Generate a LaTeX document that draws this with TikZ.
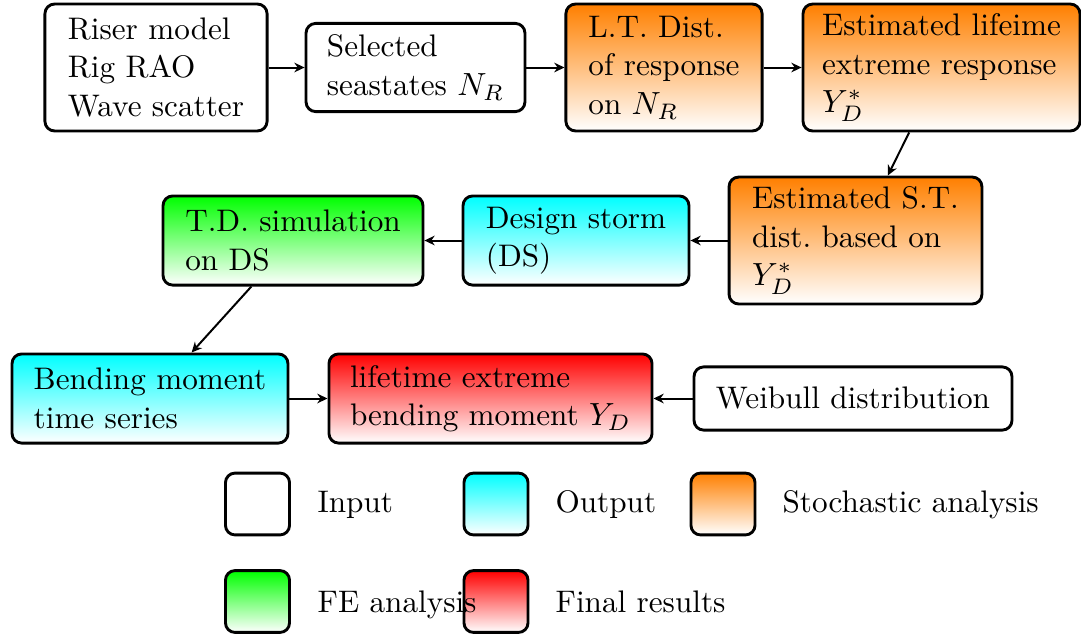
\documentclass[tikz,border=0pt]{standalone}
\usetikzlibrary{arrows.meta}
\tikzset{
  txt/.style={font=\fontsize{9.73pt}{12pt}\selectfont},
  box/.style={draw, txt, line width=0.9pt, rounded corners=3pt, align=left,
    inner xsep=0pt, inner ysep=0pt},
  inbox/.style={box, fill=white},
  outbox/.style={box, top color=cyan, bottom color=white},
  stochbox/.style={box, top color=orange, bottom color=white},
  febox/.style={box, top color=green, bottom color=white},
  finalbox/.style={box, top color=red, bottom color=white},
  swatch/.style={minimum width=20pt, minimum height=19.3pt},
  legtext/.style={txt, anchor=base west, inner sep=0pt},
  link/.style={-{Stealth[length=3.2pt,width=3pt]}, line width=0.62pt},
}
\begin{document}
\begin{tikzpicture}[x=0.312pt, y=-0.312pt]
\useasboundingbox (0,0) rectangle (1081,636);

% flow chart
\node[inbox, minimum width=69.3pt, minimum height=39.6pt] (inp) at (156,67.5)
  {Riser model\\Rig RAO\\Wave scatter};
\node[inbox, minimum width=68.3pt, minimum height=27.5pt] (sel) at (415.5,67.5)
  {Selected\\seastates $N_R$};
\node[stochbox, minimum width=61.2pt, minimum height=39.6pt] (ltd) at (664,67.5)
  {L.T. Dist.\\of response\\on $N_R$};
\node[stochbox, minimum width=86.4pt, minimum height=39.6pt] (lte) at (941.5,67.5)
  {Estimated lifeime\\extreme response\\$Y_D^*$};
\node[stochbox, minimum width=78.9pt, minimum height=39.6pt] (std) at (855.5,240.5)
  {Estimated S.T.\\dist.\ based on\\$Y_D^*$};
\node[outbox, minimum width=70.5pt, minimum height=27.8pt] (ds) at (576,240.5)
  {Design storm\\(DS)};
\node[febox, minimum width=81.1pt, minimum height=27.8pt] (td) at (293,240.5)
  {T.D. simulation\\on DS};
\node[outbox, minimum width=86.1pt, minimum height=27.8pt] (bm) at (150,398.5)
  {Bending moment\\time series};
\node[finalbox, minimum width=100.8pt, minimum height=27.8pt] (res) at (490.5,398.5)
  {lifetime extreme\\bending moment $Y_D$};
\node[inbox, minimum width=99.2pt, minimum height=19.7pt] (wb) at (853,398.5)
  {Weibull distribution};

% connectors
\draw[link] (inp) -- (sel);
\draw[link] (sel) -- (ltd);
\draw[link] (ltd) -- (lte);
\draw[link] (lte) -- (std);
\draw[link] (std) -- (ds);
\draw[link] (ds) -- (td);
\draw[link] (td) -- (bm);
\draw[link] (bm) -- (res);
\draw[link] (wb) -- (res);

% legend swatches
\node[inbox, swatch] (kin) at (257.5,504) {};
\node[outbox, swatch] (kout) at (496,504) {};
\node[stochbox, swatch] (kst) at (723,504) {};
\node[febox, swatch] (kfe) at (257.5,601.5) {};
\node[finalbox, swatch] (kfin) at (496,601.5) {};
% legend labels, set on top of the swatches
\node[legtext] (kinl) at (317,512) {Input};
\node[legtext] (koutl) at (555,512) {Output};
\node[legtext] (kstl) at (782,512) {Stochastic analysis};
\node[legtext] (kfel) at (317,612) {FE analysis};
\node[legtext] (kfinl) at (555,612) {Final results};
\end{tikzpicture}
\end{document}
